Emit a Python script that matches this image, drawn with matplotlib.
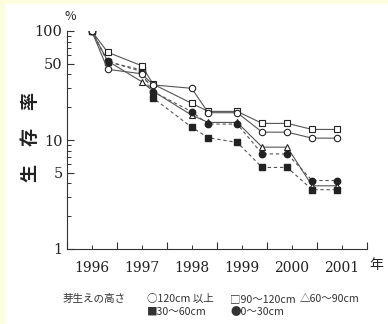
import matplotlib
matplotlib.use("Agg")
import matplotlib.pyplot as plt
from matplotlib.ticker import FixedLocator, NullFormatter

plt.rcParams['font.family'] = ['Noto Sans CJK JP', 'DejaVu Sans']

# survey times (fractional year) and survival rate (%) by seedling height
times = [1996.5, 1996.82, 1997.5, 1997.73, 1998.5, 1998.83,
         1999.41, 1999.91, 2000.41, 2000.91, 2001.41]
h_over120 = [100, 44.5, 40.5, 32.0, 29.8, 17.8, 17.8, 11.8, 11.8, 10.4, 10.4]
h_90_120 = [100, 63.8, 48.0, 32.5, 21.7, 18.3, 18.3, 14.2, 14.2, 12.5, 12.5]
h_60_90 = [100, 53.0, 34.3, 28.0, 16.9, 14.5, 14.5, 8.6, 8.6, 3.8, 3.8]
h_30_60 = [100, 52.0, 44.0, 24.2, 13.1, 10.5, 9.5, 5.6, 5.6, 3.5, 3.5]
h_0_30 = [100, 53.0, 42.3, 27.7, 18.2, 14.0, 14.0, 7.45, 7.45, 4.25, 4.25]

year_labels = ['1996', '1997', '1998', '1999', '2000', '2001']
y_major = [1, 5, 10, 50, 100]

fig = plt.figure(figsize=(3.88, 3.24), dpi=100)
fig.patch.set_facecolor('white')
# thin yellow frame on top and left
fig.patches.append(plt.Rectangle((0, 0), 4 / 388, 1, transform=fig.transFigure,
                                 color='#fffde0', zorder=0))
fig.patches.append(plt.Rectangle((0, 1 - 3 / 324), 1, 3 / 324, transform=fig.transFigure,
                                 color='#fffde0', zorder=0))

ax = fig.add_axes([66.7 / 388, 75 / 324, 300 / 388, 218 / 324])
ax.set_yscale('log')
ax.set_xlim(1996, 2002)
ax.set_ylim(1, 100)

lc = '#555555'
ec = '#222222'
ms = 4.6
ax.plot(times, h_60_90, ls='-', color=lc, lw=0.8, marker='^', ms=ms + 0.4,
        mfc='white', mec=ec, mew=0.8, zorder=2)
ax.plot(times, h_30_60, ls=(0, (3, 2.5)), color=lc, lw=0.8, marker='s', ms=ms - 0.3,
        mfc='#222222', mec=ec, zorder=3)
ax.plot(times, h_0_30, ls=(0, (3, 2.5)), color=lc, lw=0.8, marker='o', ms=ms,
        mfc='#222222', mec=ec, zorder=3)
ax.plot(times, h_90_120, ls='-', color=lc, lw=0.8, marker='s', ms=ms,
        mfc='white', mec=ec, mew=0.8, zorder=3)
ax.plot(times, h_over120, ls='-', color=lc, lw=0.8, marker='o', ms=ms,
        mfc='white', mec=ec, mew=0.8, zorder=3)

for s in ['top', 'right']:
    ax.spines[s].set_visible(False)
for s in ['left', 'bottom']:
    ax.spines[s].set_color('#333333')
    ax.spines[s].set_linewidth(0.8)

# y ticks
ax.yaxis.set_major_locator(FixedLocator(y_major))
ax.set_yticklabels([str(v) for v in y_major], family='DejaVu Serif', fontsize=10.5)
ax.yaxis.set_minor_locator(FixedLocator([2, 3, 4, 6, 7, 8, 9, 20, 30, 40, 60, 70, 80, 90]))
ax.yaxis.set_minor_formatter(NullFormatter())

# x ticks: major at year boundaries, labels at mid-year
ax.xaxis.set_major_locator(FixedLocator(range(1996, 2003)))
ax.xaxis.set_major_formatter(NullFormatter())
ax.set_xticks([1996.5 + i for i in range(6)], minor=True)
ax.set_xticklabels(year_labels, minor=True, family='DejaVu Serif', fontsize=10)

ax.tick_params(which='major', direction='in', length=5, width=0.8, color='#333333')
ax.tick_params(which='minor', direction='in', length=3, width=0.7, color='#333333')
ax.tick_params(axis='y', which='both', pad=3, labelcolor='#222222')
ax.tick_params(axis='x', which='minor', pad=9, labelcolor='#222222')

# vertical axis title, placed by hand left of the tick labels
fig.text(30 / 388, 1 - 137 / 324, '生\u3000存\u3000率', fontsize=13, fontweight='bold',
         color='#222222', rotation=90, ha='center', va='center')

fig.text(70 / 388, 1 - 16 / 324, '%', fontsize=9, ha='center', va='center', color='#222222')
fig.text(376 / 388, 1 - 265 / 324, '年', fontsize=10, ha='center', va='center', color='#222222')

# legend as text
lg = dict(fontsize=7.6, va='center', ha='left', color='#333333')
y1 = 1 - 299 / 324
y2 = 1 - 312 / 324
fig.text(63 / 388, y1, '芽生えの高さ', **lg)
fig.text(147 / 388, y1, '○120cm 以上', **lg)
fig.text(230 / 388, y1, '□90〜120cm', **lg)
fig.text(300 / 388, y1, '△60〜90cm', **lg)
fig.text(147 / 388, y2, '■30〜60cm', **lg)
fig.text(230 / 388, y2, '●0〜30cm', **lg)

fig.savefig('out.png', dpi=100)
